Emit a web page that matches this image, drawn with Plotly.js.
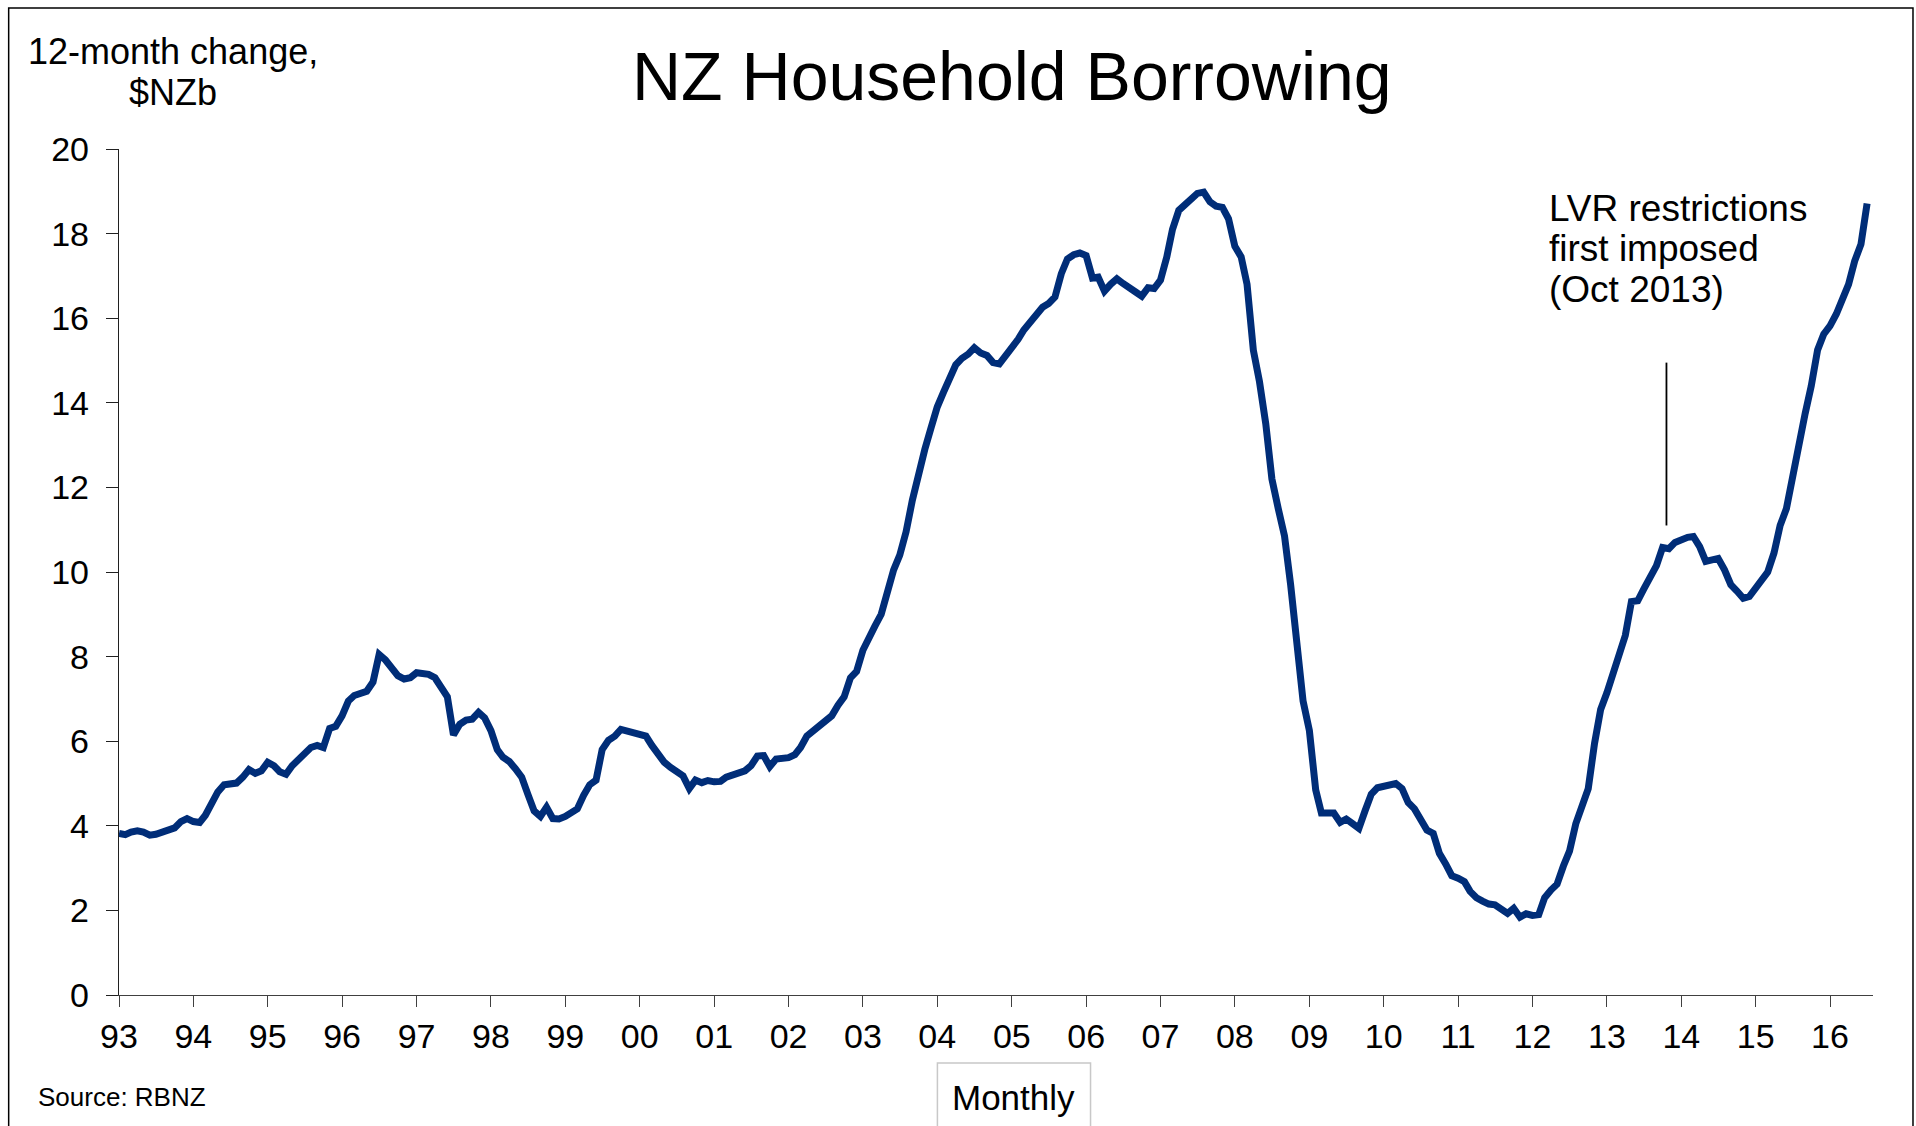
<!DOCTYPE html>
<html>
<head>
<meta charset="utf-8">
<script src="https://cdn.plot.ly/plotly-3.0.1.min.js"></script>
<style>
  html, body { margin: 0; padding: 0; background: #ffffff; }
  #chart { width: 1916px; height: 1126px; }
</style>
</head>
<body>
<div id="chart"></div>
<script>
// 12-month change in NZ household borrowing, $NZb, monthly (Jan 1993 - Jul 2016)
const years = [1993,1994,1995,1996,1997,1998,1999,2000,2001,2002,2003,2004,2005,2006,2007,2008,2009,2010,2011,2012,2013,2014,2015,2016];
const y1993 = [3.82,3.79,3.85,3.88,3.85,3.78,3.80,3.86,3.90,3.95,4.10,4.17];
const y1994 = [4.10,4.08,4.25,4.55,4.80,4.97,5.01,5.01,5.15,5.33,5.24,5.30];
const y1995 = [5.50,5.42,5.28,5.22,5.42,5.55,5.70,5.85,5.90,5.85,6.30,6.35];
const y1996 = [6.60,6.95,7.08,7.12,7.18,7.40,8.05,7.92,7.75,7.55,7.47,7.50];
const y1997 = [7.62,7.60,7.58,7.50,7.30,7.05,6.15,6.40,6.50,6.52,6.68,6.55];
const y1998 = [6.25,5.80,5.62,5.52,5.35,5.15,4.75,4.35,4.22,4.44,4.17,4.16];
const y1999 = [4.22,4.30,4.40,4.72,4.97,5.08,5.80,6.02,6.12,6.28,6.25,6.20];
const y2000 = [6.18,6.12,5.90,5.66,5.50,5.38,5.28,5.18,4.88,5.08,5.02,5.07];
const y2001 = [5.04,5.05,5.15,5.20,5.28,5.30,5.42,5.65,5.66,5.40,5.58,5.60];
const y2002 = [5.61,5.68,5.85,6.12,6.25,6.36,6.50,6.60,6.85,7.05,7.50,7.65];
const y2003 = [8.15,8.50,8.72,9.00,9.50,10.05,10.40,10.95,11.70,12.35,12.90,13.40];
const y2004 = [13.90,14.25,14.55,14.90,15.05,15.15,15.30,15.18,15.12,14.95,14.92,15.10];
const y2005 = [15.28,15.50,15.72,15.90,16.10,16.26,16.35,16.50,17.05,17.40,17.50,17.54];
const y2006 = [17.48,16.95,16.97,16.64,16.80,16.93,16.82,16.74,16.62,16.52,16.72,16.70];
const y2007 = [16.90,17.45,18.10,18.55,18.70,18.82,18.95,18.98,18.75,18.65,18.62,18.35];
const y2008 = [17.70,17.45,16.80,15.24,14.50,13.50,12.20,11.50,10.85,9.70,8.10,6.95];
const y2009 = [6.25,4.85,4.30,4.28,4.30,4.08,4.16,4.05,3.94,4.35,4.75,4.90];
const y2010 = [4.93,4.94,5.00,4.88,4.55,4.40,4.15,3.90,3.82,3.35,3.10,2.82];
const y2011 = [2.76,2.68,2.45,2.30,2.22,2.15,2.13,2.04,1.93,2.05,1.84,1.92];
const y2012 = [1.88,1.90,2.30,2.48,2.62,3.05,3.40,4.05,4.45,4.88,5.95,6.75];
const y2013 = [7.15,7.60,8.05,8.50,9.30,9.32,9.60,9.85,10.15,10.58,10.55,10.70];
const y2014 = [10.78,10.82,10.84,10.60,10.25,10.30,10.32,10.05,9.70,9.55,9.38,9.42];
const y2015 = [9.62,9.80,10.00,10.45,11.10,11.50,12.30,12.95,13.75,14.40,15.25,15.62];
const y2016 = [15.82,16.10,16.40,16.80,17.35,17.75,18.71];
const yearValues = [y1993,y1994,y1995,y1996,y1997,y1998,y1999,y2000,y2001,y2002,y2003,y2004,y2005,y2006,y2007,y2008,y2009,y2010,y2011,y2012,y2013,y2014,y2015,y2016];

const yTicks = [0,2,4,6,8,10,12,14,16,18,20];
const lvrDate = '2013-10-20';
const lvrLine = [11.1, 14.95];
const lvrText = ['LVR restrictions', 'first imposed', '(Oct 2013)'];
const titleText = 'NZ Household Borrowing';
const yTitleLines = ['12-month change,', '$NZb'];
const sourceText = 'Source: RBNZ';
const freqText = 'Monthly';

const xs = [], ys = [];
years.forEach((yr, k) => {
  yearValues[k].forEach((v, i) => {
    xs.push(yr + '-' + String(i + 1).padStart(2, '0') + '-01');
    ys.push(v);
  });
});

const FONT = 'Liberation Sans, Arial, sans-serif';

const trace = {
  x: xs, y: ys, type: 'scatter', mode: 'lines',
  line: { color: '#002d78', width: 7 },
  hoverinfo: 'x+y'
};

const annotations = [
  { text: titleText, xref: 'paper', yref: 'paper', x: 0.5094, y: 1.0863,
    xanchor: 'center', yanchor: 'middle', showarrow: false,
    font: { family: FONT, size: 68, color: '#000' } },
  { text: yTitleLines[0], xref: 'paper', yref: 'paper', x: 0.0308, y: 1.1147,
    xanchor: 'center', yanchor: 'middle', showarrow: false,
    font: { family: FONT, size: 36, color: '#000' } },
  { text: yTitleLines[1], xref: 'paper', yref: 'paper', x: 0.0308, y: 1.0662,
    xanchor: 'center', yanchor: 'middle', showarrow: false,
    font: { family: FONT, size: 36, color: '#000' } },
  { text: sourceText, xref: 'paper', yref: 'paper', x: -0.0475, y: -0.1206,
    xanchor: 'left', yanchor: 'middle', showarrow: false,
    font: { family: FONT, size: 26, color: '#000' } },
  { text: freqText, xref: 'paper', yref: 'paper', x: 0.5102, y: -0.1217,
    xanchor: 'center', yanchor: 'middle', showarrow: false,
    font: { family: FONT, size: 35, color: '#000' } }
];
const lvrY = [0.9291, 0.8818, 0.8345];
lvrText.forEach((t, i) => {
  annotations.push({ text: t, xref: 'paper', yref: 'paper', x: 0.8142, y: lvrY[i],
    xanchor: 'left', yanchor: 'middle', showarrow: false,
    font: { family: FONT, size: 37, color: '#000' } });
});

const shapes = [
  // outer frame
  { type: 'rect', xref: 'paper', yref: 'paper', x0: -0.0629, x1: 1.0228, y0: -0.17, y1: 1.1667,
    line: { color: '#000', width: 1.5 }, fillcolor: 'rgba(0,0,0,0)', layer: 'below' },
  // "Monthly" box
  { type: 'rect', xref: 'paper', yref: 'paper', x0: 0.4666, x1: 0.5539, y0: -0.17, y1: -0.0804,
    line: { color: '#c8c8c8', width: 1.5 }, fillcolor: 'rgba(0,0,0,0)' },
  // LVR marker line
  { type: 'line', xref: 'x', yref: 'y', x0: lvrDate, x1: lvrDate, y0: lvrLine[0], y1: lvrLine[1],
    line: { color: '#000', width: 1.8 } }
];

const layout = {
  width: 1916, height: 1126,
  margin: { l: 119, r: 43, t: 149, b: 131, pad: 0 },
  paper_bgcolor: '#fff', plot_bgcolor: '#fff',
  showlegend: false,
  font: { family: FONT, color: '#000' },
  xaxis: {
    type: 'date', range: ['1993-01-01', '2016-07-30'],
    tick0: '1993-01-01', dtick: 'M12', tickformat: '%y',
    ticks: 'outside', ticklen: 11, tickwidth: 1, tickcolor: '#404040',
    showline: true, linecolor: '#404040', linewidth: 1.2,
    showgrid: false, zeroline: false,
    tickfont: { family: FONT, size: 34, color: '#000' },
    fixedrange: true
  },
  yaxis: {
    range: [0, 20], tickvals: yTicks, ticktext: yTicks.map(String),
    ticks: 'outside', ticklen: 12, tickwidth: 1, tickcolor: '#202020',
    showline: true, linecolor: '#202020', linewidth: 1.2,
    showgrid: false, zeroline: false,
    ticklabelstandoff: 10,
    tickfont: { family: FONT, size: 34, color: '#000' },
    fixedrange: true
  },
  annotations: annotations,
  shapes: shapes
};

Plotly.newPlot('chart', [trace], layout, { displayModeBar: false, staticPlot: true });
</script>
</body>
</html>
